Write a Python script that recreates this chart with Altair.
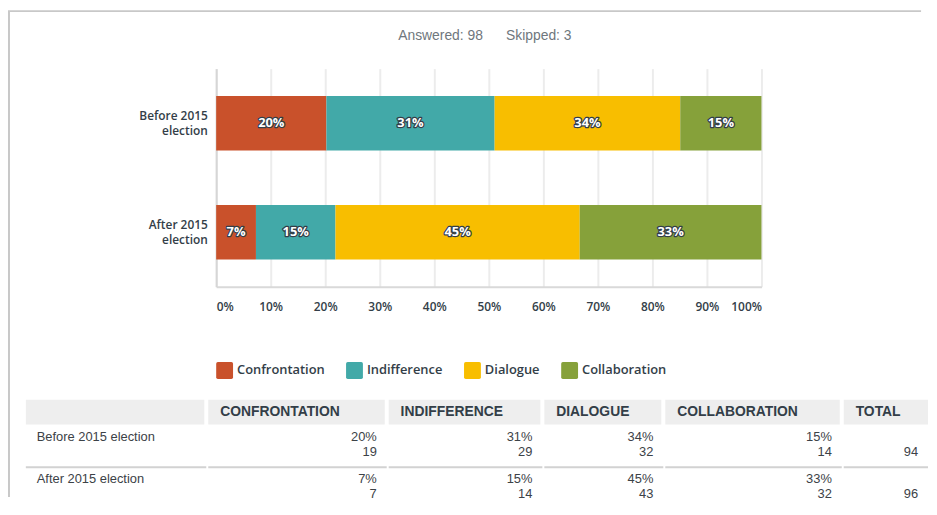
import altair as alt
import pandas as pd

# ---------------- data ----------------
questions = ["Before 2015 election", "After 2015 election"]
answers = ["Confrontation", "Indifference", "Dialogue", "Collaboration"]
headers = ["CONFRONTATION", "INDIFFERENCE", "DIALOGUE", "COLLABORATION"]
counts_before = [19, 29, 32, 14]
counts_after = [7, 14, 43, 32]
pct_before = ["20%", "31%", "34%", "15%"]
pct_after = ["7%", "15%", "45%", "33%"]
totals = [94, 96]
answered = 98
skipped = 3
x_ticks = [0, 0.1, 0.2, 0.3, 0.4, 0.5, 0.6, 0.7, 0.8, 0.9, 1.0]
colors = ["#C9512B", "#42A9A8", "#F8BE00", "#86A13A"]

# ---------------- styles ----------------
DARK = "#333e48"
TXT = "#3c4247"
FRAME = "#c8c8c8"
HEAD_BG = "#eeeeee"
SEP = "#d2d2d2"
UI_FONT = "Open Sans"
TAB_FONT = "Liberation Sans"

rows = []
for q, cnts, pcts in zip(questions, [counts_before, counts_after], [pct_before, pct_after]):
    for i, (a, c, p) in enumerate(zip(answers, cnts, pcts)):
        rows.append({"question": q, "answer": a, "order": i, "count": c, "pct": p})
bar_df = pd.DataFrame(rows)

base = alt.Chart(bar_df).transform_stack(
    stack="count",
    groupby=["question"],
    sort=[alt.SortField("order", order="ascending")],
    as_=["x0", "x1"],
    offset="normalize",
).transform_calculate(mid="(datum.x0 + datum.x1) / 2")

PLOT_L, PLOT_R = 208, 758   # plot range inside the full-width view

y_axis = alt.Axis(
    title=None,
    labelExpr="[replace(datum.label, ' election', ''), 'election']",
    labelFont=UI_FONT, labelFontSize=12, labelFontWeight=600, labelColor=DARK,
    labelLineHeight=15, labelPadding=9, labelAlign="right", labelOffset=-7,
    ticks=False, tickSize=0, grid=False,
    domain=True, domainColor="#d6d6d6", domainWidth=2,
    offset=-PLOT_L, minExtent=0,
)
y_enc = alt.Y("question:N", sort=questions,
              scale=alt.Scale(paddingInner=0.5, paddingOuter=0.25), axis=y_axis)
y_enc2 = alt.Y("question:N", sort=questions)

x_axis = alt.Axis(
    title=None, values=x_ticks, format=".0%", labelFlush=True,
    labelFont=UI_FONT, labelFontSize=12, labelFontWeight=600, labelColor=DARK,
    labelPadding=15, ticks=False, tickSize=0,
    grid=True, gridColor="#ececec", gridWidth=2,
    domain=True, domainColor="#d9d9d9", domainWidth=2,
)
x_scale = alt.Scale(domain=[0, 1], nice=False, range=[PLOT_L, PLOT_R])

rounded_square = ("M -0.8,-1 L 0.8,-1 Q 1,-1 1,-0.8 L 1,0.8 Q 1,1 0.8,1 "
                  "L -0.8,1 Q -1,1 -1,0.8 L -1,-0.8 Q -1,-1 -0.8,-1 Z")

legend = alt.Legend(
    title=None, orient="none", legendX=210, legendY=355, direction="horizontal",
    symbolType=rounded_square, symbolSize=289, symbolStrokeWidth=0, symbolOpacity=1,
    labelFont=UI_FONT, labelFontSize=13, labelFontWeight=600, labelColor=DARK,
    labelOffset=4, columnPadding=21, padding=0,
)

bars = base.mark_bar().encode(
    x=alt.X("x0:Q", scale=x_scale, axis=x_axis),
    x2="x1:Q",
    y=y_enc,
    color=alt.Color("answer:N", scale=alt.Scale(domain=answers, range=colors), legend=legend),
)
label_outline = base.mark_text(
    font=UI_FONT, fontSize=13, fontWeight=700, fill=DARK, stroke=DARK,
    strokeWidth=2.5, strokeJoin="round",
).encode(x="mid:Q", y=y_enc2, text="pct:N")
label_fill = base.mark_text(
    font=UI_FONT, fontSize=13, fontWeight=700, fill="white",
).encode(x="mid:Q", y=y_enc2, text="pct:N")

title_text = f"Answered: {answered}" + "\u00a0" * 6 + f"Skipped: {skipped}"
bar_chart = alt.layer(bars, label_outline, label_fill).properties(
    width=916, height=220,
    title=alt.TitleParams(
        text=title_text, font=TAB_FONT, fontSize=14, fontWeight="normal",
        color="#6f777d", anchor="middle", frame="group", offset=26, dx=21,
    ),
)

# ---------------- table ----------------
col_widths = [198, 180, 155, 120, 178, 85]
TOP = 88
HEAD_Y0, HEAD_Y1 = TOP, TOP + 25
SEP_Y = TOP + 68
ROW_Y = [TOP + 38, TOP + 80]
CNT_DY = 15
TABLE_H = 186

one = pd.DataFrame({"k": [0]})


def row_scale():
    return alt.Y("question:N", sort=questions,
                 scale=alt.Scale(domain=questions, range=ROW_Y, padding=0), axis=None)


panels = []
for ci, w in enumerate(col_widths):
    x0 = 16 if ci == 0 else 0
    x1 = w if ci == len(col_widths) - 1 else w - 2
    layers = []
    layers.append(alt.Chart(one).mark_rect(color=HEAD_BG).encode(
        x=alt.value(x0), x2=alt.value(x1), y=alt.value(HEAD_Y0), y2=alt.value(HEAD_Y1)))
    layers.append(alt.Chart(one).mark_rule(color=SEP, strokeWidth=2).encode(
        x=alt.value(x0), x2=alt.value(w), y=alt.value(SEP_Y)))
    if ci == 0:
        df = pd.DataFrame({"question": questions})
        layers.append(alt.Chart(df).mark_text(
            font=TAB_FONT, fontSize=13, color=TXT, align="left", baseline="middle",
        ).encode(x=alt.value(27), y=row_scale(), text="question:N"))
    elif ci <= 4:
        ai = ci - 1
        hdf = pd.DataFrame({"h": [headers[ai]]})
        layers.append(alt.Chart(hdf).mark_text(
            font=TAB_FONT, fontSize=14, fontWeight="bold", color=DARK,
            align="left", baseline="middle",
        ).encode(x=alt.value(12), y=alt.value((HEAD_Y0 + HEAD_Y1) / 2), text="h:N"))
        df = pd.DataFrame({
            "question": questions,
            "pct": [pct_before[ai], pct_after[ai]],
            "count": [counts_before[ai], counts_after[ai]],
        })
        layers.append(alt.Chart(df).mark_text(
            font=TAB_FONT, fontSize=13, color=TXT, align="right", baseline="middle",
        ).encode(x=alt.value(w - 10), y=row_scale(), text="pct:N"))
        layers.append(alt.Chart(df).mark_text(
            font=TAB_FONT, fontSize=13, color=TXT, align="right", baseline="middle",
            dy=CNT_DY,
        ).encode(x=alt.value(w - 10), y=row_scale(), text="count:N"))
    else:
        hdf = pd.DataFrame({"h": ["TOTAL"]})
        layers.append(alt.Chart(hdf).mark_text(
            font=TAB_FONT, fontSize=14, fontWeight="bold", color=DARK,
            align="left", baseline="middle",
        ).encode(x=alt.value(12), y=alt.value((HEAD_Y0 + HEAD_Y1) / 2), text="h:N"))
        df = pd.DataFrame({"question": questions, "total": totals})
        layers.append(alt.Chart(df).mark_text(
            font=TAB_FONT, fontSize=13, color=TXT, align="right", baseline="middle",
            dy=CNT_DY,
        ).encode(x=alt.value(w - 10), y=row_scale(), text="total:N"))
    panels.append(alt.layer(*layers).properties(width=w, height=TABLE_H))

table = alt.hconcat(*panels, spacing=0)

# ---------------- frame ----------------
top_line = alt.Chart(one).mark_rect(color=FRAME).encode(
    x=alt.value(0), x2=alt.value(919), y=alt.value(0), y2=alt.value(2)
).properties(width=919, height=19)
left_line = alt.Chart(one).mark_rect(color=FRAME).encode(
    x=alt.value(0), x2=alt.value(2), y=alt.value(0), y2=alt.value(491)
).properties(width=2, height=491)

content = alt.vconcat(top_line, bar_chart, table, spacing=0)
chart = alt.hconcat(left_line, content, spacing=0).properties(padding=0).configure_view(
    strokeWidth=0
)

chart.save("out.html", embed_options={"renderer": "svg", "actions": False})
